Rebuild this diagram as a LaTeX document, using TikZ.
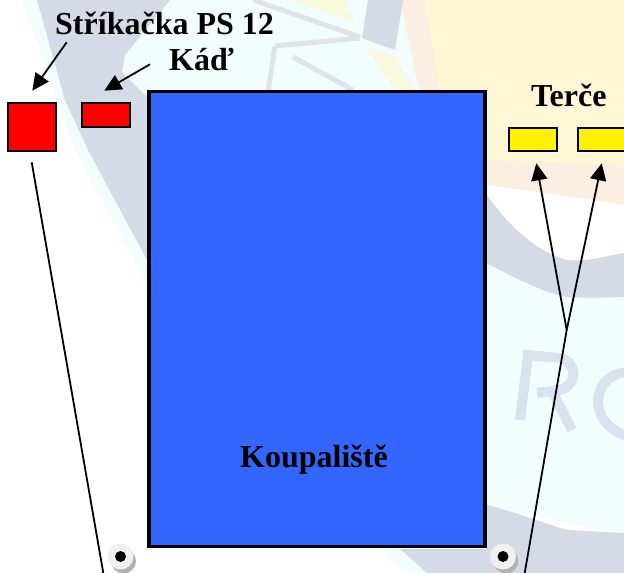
\documentclass[tikz,border=0pt]{standalone}
\usepackage{fontspec}
\setmainfont{Liberation Serif}
\usetikzlibrary{arrows.meta}
\definecolor{wmgrey}{RGB}{212,218,230}
\definecolor{wmstroke}{RGB}{224,228,234}
\definecolor{wmcream}{RGB}{255,247,214}
\definecolor{wmpink}{RGB}{253,238,226}
\definecolor{wmice}{RGB}{242,254,254}
\definecolor{wmyel}{RGB}{250,250,222}
\definecolor{wmletter}{RGB}{218,226,238}
\definecolor{pool}{RGB}{51,102,255}
\tikzset{
  x=1pt,y=-1pt,
  lab/.style={font=\bfseries\fontsize{32}{34}\selectfont,inner sep=0pt,text=black},
  anybox/.style={draw=black,inner sep=0pt,outer sep=0pt,anchor=north west},
  redbox/.style={anybox,line width=2pt,fill=red},
  yelbox/.style={anybox,line width=2pt,fill=yellow},
  poolbox/.style={anybox,line width=3.8pt,fill=pool},
  pointer/.style={draw=black,line width=1.8pt,-{Triangle[length=17pt,width=16pt]}},
  plain/.style={draw=black,line width=1.8pt},
  hole/.style={circle,fill=white!94!black,minimum size=26pt,inner sep=0pt},
  holeshadow/.style={circle,fill=black!30,minimum size=25pt,inner sep=0pt},
  holecore/.style={circle,fill=black,minimum size=11pt,inner sep=0pt},
  wmline/.style={draw=wmstroke,line width=5pt},
  wmlet/.style={draw=wmletter,line width=10pt}
}
\begin{document}
\begin{tikzpicture}
\useasboundingbox (0,0) rectangle (624,573);
\begin{scope}
\clip (0,0) rectangle (624,573);
\fill[white] (0,0) rectangle (624,573);
% pale ice behind the upper watermark
\fill[wmice] (22,0) -- (400,0) -- (420,95) -- (150,95) -- (150,290) -- (75,150) -- cycle;
% cream and pink at the top right
\fill[wmpink] (400,0) -- (624,0) -- (624,205) -- (560,195) -- (486,185) -- (486,95) -- (420,95) -- cycle;
\fill[wmcream] (425,0) -- (624,0) -- (624,165) -- (486,160) -- (486,95) -- (440,95) -- cycle;
% grey swath on the left
\fill[wmgrey] (37,0) -- (170,0) -- (125,55) -- (122,72) -- (145,95) -- (150,95) -- (150,270) -- (147,260) -- (88,150) -- (65,100) -- cycle;
% strokes of the emblem
\draw[wmline] (253,0) -- (360,37);
\draw[wmline] (275,46) -- (360,38);
\draw[wmline] (275,46) -- (268,92);
\draw[wmline] (293,57) -- (353,90);
\fill[wmgrey] (368,0) -- (403,0) -- (395,50) -- (362,38) -- cycle;
\fill[wmyel] (290,0) -- (345,0) -- (355,22) -- cycle;
\fill[wmyel] (368,50) -- (395,55) -- (415,92) -- (395,92) -- cycle;
% right side: ice, grey bands and letters
\fill[wmice] (486,263) -- (624,297) -- (624,535) -- (486,505) -- cycle;
\fill[wmgrey] (486,193) .. controls (500,215) and (530,250) .. (567,260) .. controls (590,262) and (610,255) .. (624,253)
  -- (624,297) .. controls (600,298) and (580,298) .. (567,297) .. controls (540,292) and (510,275) .. (486,263) -- cycle;
\fill[wmice] (383,549) -- (400,549) -- (427,573) -- (403,573) -- cycle;
\fill[wmgrey] (400,549) -- (486,549) -- (486,505) .. controls (510,510) and (540,522) .. (567,530) -- (624,533) -- (624,573) -- (427,573) -- cycle;
\draw[wmlet] (520,420) -- (528,355) -- (560,358) .. controls (578,362) and (578,385) .. (560,390) -- (537,393);
\draw[wmlet] (553,393) -- (572,430);
\draw[wmlet] (630,372) .. controls (590,372) and (585,425) .. (630,437);
\end{scope}
\node[lab,anchor=base west] (t1) at (55,34) {Stříkačka PS 12};
\node[lab,anchor=base west] (t2) at (169,70) {Káď};
\node[lab,anchor=base west] (t3) at (531,106) {Terče};
\node[poolbox,minimum width=336pt,minimum height=455pt] (pool) at (149,91.5) {};
\node[lab,anchor=base] (t4) at (314,467) {Koupaliště};
\node[redbox,minimum width=47.4pt,minimum height=47.4pt] (s) at (8.3,103.3) {};
\node[redbox,minimum width=47.7pt,minimum height=23.4pt] (k) at (82,103.3) {};
\node[yelbox,minimum width=47.4pt,minimum height=23pt] (y1) at (509.3,127.7) {};
\node[yelbox,minimum width=50pt,minimum height=23pt] (y2) at (578.3,127.7) {};
\coordinate (a1s) at (66.7,42.3); \coordinate (a1e) at (32.3,90.7);
\coordinate (a2s) at (150,64.3); \coordinate (a2e) at (104.3,90.7);
\draw[pointer] (a1s) -- (a1e);
\draw[pointer] (a2s) -- (a2e);
\coordinate (l1s) at (31.7,162.3); \coordinate (l1e) at (103.3,573);
\draw[plain] (l1s) -- (l1e);
\coordinate (j) at (566.7,330); \coordinate (r0) at (524.7,573);
\coordinate (r1) at (536.3,163.3); \coordinate (r2) at (601.7,163.3);
\draw[plain] (r0) -- (j);
\draw[pointer] (j) -- (r1);
\draw[pointer] (j) -- (r2);
\begin{scope}
\clip (0,0) rectangle (624,573);
\node[holeshadow] (h1s) at (123.5,561) {};
\node[hole] (h1) at (120.5,556.5) {};
\node[holecore] (h1c) at (120.5,556.5) {};
\node[holeshadow] (h2s) at (506,561) {};
\node[hole] (h2) at (503,556.5) {};
\node[holecore] (h2c) at (503,556.5) {};
\end{scope}
\end{tikzpicture}
\end{document}
